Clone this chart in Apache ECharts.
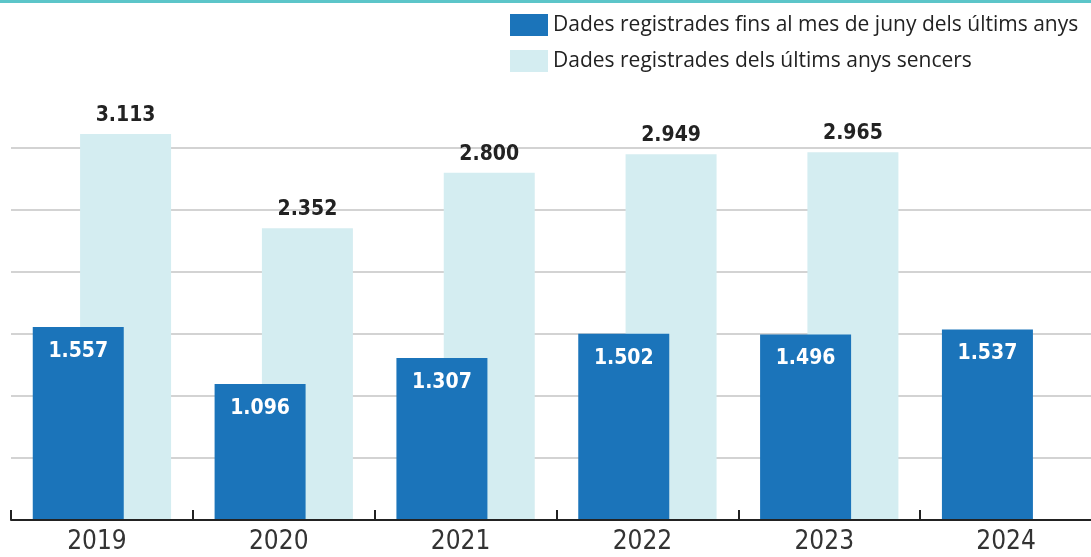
<!DOCTYPE html>
<html><head><meta charset="utf-8">
<script src="https://cdn.jsdelivr.net/npm/echarts@6/dist/echarts.min.js"></script>
<style>html,body{margin:0;padding:0;background:#fff;overflow:hidden}#c{width:1102px;height:557px}</style>
</head><body><div id="c"></div>
<script>
const categories = ['2019','2020','2021','2022','2023','2024'];
const juneValues = [1557, 1096, 1307, 1502, 1496, 1537];
const fullYearValues = [3113, 2352, 2800, 2949, 2965, null];
const seriesNames = ['Dades registrades fins al mes de juny dels últims anys', 'Dades registrades dels últims anys sencers'];
const yTicks = [0, 500, 1000, 1500, 2000, 2500, 3000];

const numFont = "'Liberation Sans Narrow', 'DejaVu Sans Condensed', 'Roboto', sans-serif";
const fmt = p => p.value == null ? '' : String(p.value).replace(/\B(?=(\d{3})+(?!\d))/g, '.');

const chart = echarts.init(document.getElementById('c'));
chart.setOption({
  animation: false,
  graphic: [{type:'rect', left:0, top:0, shape:{width:1102, height:3}, style:{fill:'#5cc5c9'}}],
  legend: {
    orient: 'vertical', left: 510, top: 14, padding: 0, itemWidth: 38, itemHeight: 22, itemGap: 14,
    icon: 'rect', selectedMode: false,
    textStyle: {fontFamily: "'Open Sans', sans-serif", fontSize: 21, lineHeight: 22, color: '#222'},
    data: seriesNames
  },
  grid: {left: 11, right: 0, top: 148, bottom: 37},
  xAxis: {
    type: 'category', data: categories,
    axisLine: {show: true, lineStyle: {color: '#222', width: 2}},
    axisTick: {show: true, inside: true, length: 10, alignWithLabel: false, lineStyle: {color: '#222', width: 2}},
    axisLabel: {fontFamily: "'DejaVu Sans Condensed', sans-serif", fontSize: 26, color: '#333', margin: 9, padding: [0,10,0,0]},
    z: 5
  },
  yAxis: {
    type: 'value', min: yTicks[0], max: yTicks[yTicks.length-1], interval: 500,
    axisLabel: {show: false}, axisLine: {show: false}, axisTick: {show: false},
    splitLine: {lineStyle: {color: '#d3d3d3', width: 2}}
  },
  series: [
    {
      name: seriesNames[0], type: 'bar', data: juneValues, barWidth: 91, barGap: '-48%', z: 3, clip: false,
      itemStyle: {color: '#1b74ba'},
      label: {show: true, position: 'insideTop', distance: 14, formatter: fmt, color: '#fff',
        fontFamily: numFont, fontWeight: 'bold', fontSize: 21}
    },
    {
      name: seriesNames[1], type: 'bar', data: fullYearValues, barWidth: 91, z: 2, clip: false,
      itemStyle: {color: '#d4edf1'},
      label: {show: true, position: 'top', distance: 8, formatter: fmt, color: '#222',
        fontFamily: numFont, fontWeight: 'bold', fontSize: 21}
    }
  ]
});
</script></body></html>
